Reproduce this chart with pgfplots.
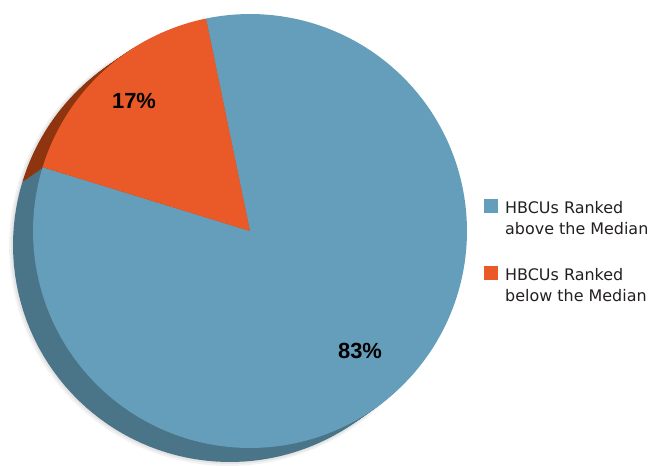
\documentclass[border=0pt]{standalone}
\usepackage{pgfplots}
\pgfplotsset{compat=1.18}
\usepackage{pgfplotstable}
\usepackage{fontspec}
\setmainfont{DejaVu Sans}
\newfontfamily\labfont{Liberation Sans}
\definecolor{pieblue}{RGB}{101,158,186}
\definecolor{pieorange}{RGB}{234,90,40}
\definecolor{shblue}{RGB}{74,116,136}
\definecolor{shorange}{RGB}{142,52,14}
\definecolor{legtext}{RGB}{35,31,32}
\pgfplotstableread{
label value
above 83
below 17
}\pietable
\pgfplotstablegetelem{0}{value}\of\pietable \let\vAbove\pgfplotsretval
\pgfplotstablegetelem{1}{value}\of\pietable \let\vBelow\pgfplotsretval
\pgfmathsetmacro\aStart{101.7}
\pgfmathsetmacro\aMid{\aStart+3.6*\vBelow}
\pgfmathsetmacro\aEnd{\aMid+3.6*\vAbove}
\begin{document}
\begin{tikzpicture}
\begin{axis}[
  width=651bp, height=465bp, scale only axis,
  xmin=0, xmax=651, ymin=0, ymax=465,
  hide axis, clip=false,
]
\path (axis cs:0,0) rectangle (axis cs:651,465);
% soft drop shadow
\addplot[forget plot, draw=none, fill=black, fill opacity=0.05, domain=0:360, samples=120]
  ({229+220*cos(x)},{219+220*sin(x)}) -- cycle;
\addplot[forget plot, draw=none, fill=black, fill opacity=0.06, domain=0:360, samples=120]
  ({229.5+218.5*cos(x)},{219.5+218.5*sin(x)}) -- cycle;
% extrusion layers
\pgfplotsinvokeforeach{0,...,9}{
\addplot[forget plot, draw=none, fill=shblue, domain=\aMid:\aEnd, samples=120]
  ({230+2*#1+217*cos(x)},{220+1.4*#1+217*sin(x)}) -- (axis cs:{230+2*#1},{220+1.4*#1}) -- cycle;
\addplot[forget plot, draw=none, fill=shorange, domain=\aStart:\aMid, samples=40]
  ({230+2*#1+217*cos(x)},{220+1.4*#1+217*sin(x)}) -- (axis cs:{230+2*#1},{220+1.4*#1}) -- cycle;
}
% top pie
\addplot[forget plot, draw=none, fill=pieblue, domain=\aMid:\aEnd, samples=150]
  ({250+217*cos(x)},{234+217*sin(x)}) -- (axis cs:250,234) -- cycle;
\addplot[forget plot, draw=none, fill=pieorange, domain=\aStart:\aMid, samples=50]
  ({250+217*cos(x)},{234+217*sin(x)}) -- (axis cs:250,234) -- cycle;
% value labels
\node[anchor=base, inner sep=0pt, font=\labfont\bfseries\upshape\fontsize{22}{26}\selectfont] at (axis cs:134,357) {17\%};
\node[anchor=base, inner sep=0pt, font=\labfont\bfseries\upshape\fontsize{22}{26}\selectfont] at (axis cs:360,107) {83\%};
% legend
\fill[pieblue] (axis cs:484,252) rectangle (axis cs:498,266);
\node[anchor=base west, inner sep=0pt, text=legtext, font=\fontsize{16}{20}\selectfont] at (axis cs:505,252) {HBCUs Ranked};
\node[anchor=base west, inner sep=0pt, text=legtext, font=\fontsize{16}{20}\selectfont] at (axis cs:505,231) {above the Median};
\fill[pieorange] (axis cs:484,185) rectangle (axis cs:498,199);
\node[anchor=base west, inner sep=0pt, text=legtext, font=\fontsize{16}{20}\selectfont] at (axis cs:505,185) {HBCUs Ranked};
\node[anchor=base west, inner sep=0pt, text=legtext, font=\fontsize{16}{20}\selectfont] at (axis cs:505,164) {below the Median};
\end{axis}
\end{tikzpicture}
\end{document}
